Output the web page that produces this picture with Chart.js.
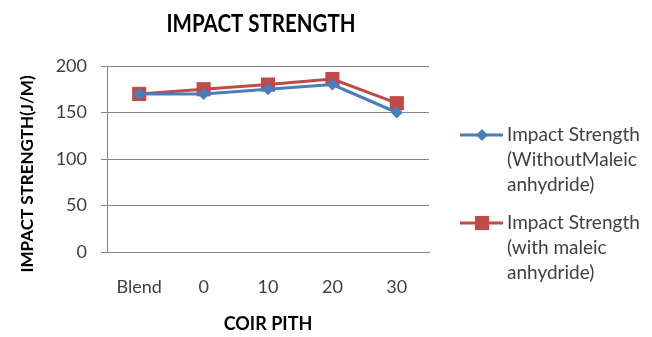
<!DOCTYPE html>
<html>
<head>
<meta charset="utf-8">
<script src="https://cdn.jsdelivr.net/npm/chart.js@4"></script>
<style>
  html, body { margin: 0; padding: 0; background: #ffffff; }
  #wrap { width: 652px; height: 337px; }
</style>
</head>
<body>
<div id="wrap"><canvas id="impactChart" width="652" height="337"></canvas></div>
<script>
const coirPith = ['Blend', '0', '10', '20', '30'];
const withoutMaleic = [170, 170, 175, 180, 150];
const withMaleic = [170, 175, 180, 186, 160];
const yTicks = [0, 50, 100, 150, 200];

const seriesLabels = [
    ['Impact Strength', '(WithoutMaleic', 'anhydride)'],
    ['Impact Strength', '(with maleic', 'anhydride)']
];

const BLUE = '#4a7ebb';
const RED = '#be4b48';
const FONT = 'Lato, "DejaVu Sans", sans-serif';

// title, rotated y title and the wrapped legend are painted by hand
const decorations = {
    id: 'decorations',
    afterDraw(chart) {
        const ctx = chart.ctx;
        ctx.save();

        ctx.fillStyle = '#000000';
        ctx.textAlign = 'center';
        ctx.textBaseline = 'middle';

        // narrow the heading a little so it reads like a condensed face
        ctx.save();
        ctx.translate(261, 24);
        ctx.scale(0.82, 1);
        ctx.font = 'bold 25px ' + FONT;
        ctx.fillText('IMPACT STRENGTH', 0, 0);
        ctx.restore();

        ctx.save();
        ctx.translate(28, 174);
        ctx.rotate(-Math.PI / 2);
        ctx.font = 'bold 17px ' + FONT;
        ctx.fillText('IMPACT STRENGTH(J/M)', 0, 0);
        ctx.restore();

        const items = [
            { y: 135, color: BLUE, style: 'rectRot', radius: 6 },
            { y: 223, color: RED, style: 'rect', radius: 10 }
        ];
        ctx.font = '19px ' + FONT;
        ctx.textAlign = 'left';
        items.forEach((it, i) => {
            ctx.strokeStyle = it.color;
            ctx.lineWidth = 3;
            ctx.beginPath();
            ctx.moveTo(460, it.y);
            ctx.lineTo(503, it.y);
            ctx.stroke();
            ctx.fillStyle = it.color;
            Chart.helpers.drawPoint(ctx, { pointStyle: it.style, radius: it.radius, borderWidth: 0 }, 482, it.y);
            ctx.fillStyle = '#404040';
            seriesLabels[i].forEach((line, j) => {
                ctx.fillText(line, 507, it.y + j * 25);
            });
        });
        ctx.restore();
    }
};

new Chart(document.getElementById('impactChart'), {
    type: 'line',
    data: {
        labels: coirPith,
        datasets: [
            {
                label: seriesLabels[0].join(' '),
                data: withoutMaleic,
                borderColor: BLUE,
                backgroundColor: BLUE,
                borderWidth: 3,
                pointStyle: 'rectRot',
                pointRadius: 6,
                pointBorderWidth: 0,
                tension: 0
            },
            {
                label: seriesLabels[1].join(' '),
                data: withMaleic,
                borderColor: RED,
                backgroundColor: RED,
                borderWidth: 3,
                pointStyle: 'rect',
                pointRadius: 10,
                pointBorderWidth: 0,
                tension: 0
            }
        ]
    },
    options: {
        responsive: false,
        animation: false,
        layout: { padding: { left: 0, top: 66, right: 223, bottom: 0 } },
        plugins: {
            legend: { display: false },
            tooltip: { enabled: false }
        },
        scales: {
            x: {
                offset: true,
                grid: { display: false },
                border: { color: '#868686', width: 1 },
                ticks: { color: '#404040', font: { family: FONT, size: 18 }, padding: 16 },
                title: {
                    display: true,
                    text: 'COIR PITH',
                    color: '#000000',
                    font: { family: FONT, size: 18, weight: 'bold' },
                    padding: { top: 0, bottom: 2 }
                },
                afterFit(scale) { scale.height = 85; }
            },
            y: {
                min: 0,
                max: 200,
                afterBuildTicks(scale) { scale.ticks = yTicks.map(v => ({ value: v })); },
                grid: { color: '#868686', tickLength: 6 },
                border: { color: '#868686', width: 1 },
                ticks: { color: '#404040', font: { family: FONT, size: 18 }, padding: 14 },
                afterFit(scale) { scale.width = 107; }
            }
        }
    },
    plugins: [decorations]
});
</script>
</body>
</html>
